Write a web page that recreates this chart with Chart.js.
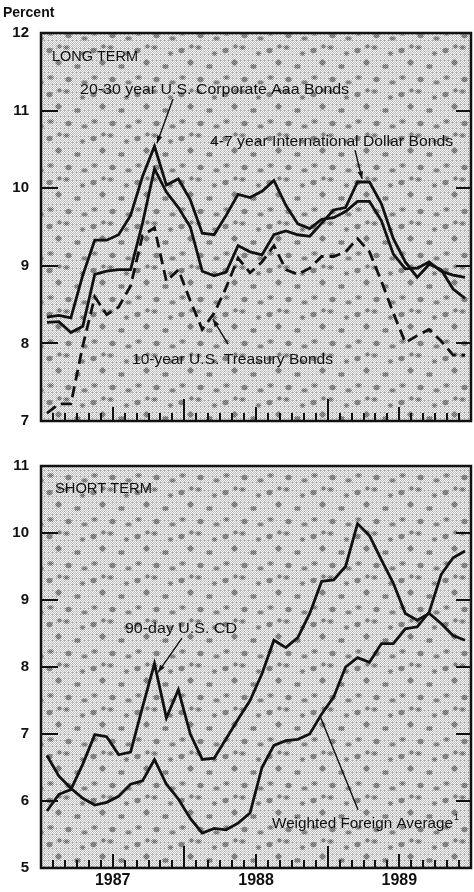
<!DOCTYPE html>
<html>
<head>
<meta charset="utf-8">
<script src="https://cdn.jsdelivr.net/npm/chart.js@4"></script>
<style>
  body { margin: 0; background: #fff; width: 474px; height: 892px; position: relative; overflow: hidden; }
  #percent { position: absolute; left: 3px; top: 4px; font: bold 14px "Liberation Sans", Arial, sans-serif; color: #111; }
  #bottomChart { position: absolute; left: 0; top: 442px; }
  #topChart { position: absolute; left: 0; top: 0; }
</style>
</head>
<body>
<canvas id="topChart" width="474" height="442"></canvas>
<canvas id="bottomChart" width="474" height="450"></canvas>
<div id="percent">Percent</div>
<script>
// months Jan 1987 .. Dec 1989
const months = [
  'Jan 1987','Feb 1987','Mar 1987','Apr 1987','May 1987','Jun 1987','Jul 1987','Aug 1987','Sep 1987','Oct 1987','Nov 1987','Dec 1987',
  'Jan 1988','Feb 1988','Mar 1988','Apr 1988','May 1988','Jun 1988','Jul 1988','Aug 1988','Sep 1988','Oct 1988','Nov 1988','Dec 1988',
  'Jan 1989','Feb 1989','Mar 1989','Apr 1989','May 1989','Jun 1989','Jul 1989','Aug 1989','Sep 1989','Oct 1989','Nov 1989','Dec 1989'
];
const yearLabels = ['1987', '1988', '1989'];
const longTermTicks = [7, 8, 9, 10, 11, 12];
const shortTermTicks = [5, 6, 7, 8, 9, 10, 11];

// long term, percent
const aaaBonds = [8.34, 8.36, 8.33, 8.88, 9.33, 9.33, 9.40, 9.65, 10.15, 10.54, 10.04, 10.12,
  9.85, 9.42, 9.40, 9.65, 9.92, 9.88, 9.96, 10.10, 9.78, 9.54, 9.48, 9.60,
  9.62, 9.70, 9.83, 9.83, 9.58, 9.15, 8.96, 8.97, 9.05, 8.93, 8.88, 8.85];
const intlDollarBonds = [8.27, 8.28, 8.14, 8.22, 8.89, 8.93, 8.95, 8.95, 9.55, 10.25, 9.95, 9.75,
  9.50, 8.93, 8.87, 8.92, 9.26, 9.18, 9.14, 9.40, 9.45, 9.40, 9.38, 9.55,
  9.72, 9.75, 10.08, 10.08, 9.80, 9.35, 9.05, 8.85, 9.02, 8.95, 8.70, 8.58];
const treasuryBonds = [7.10, 7.22, 7.22, 7.97, 8.60, 8.37, 8.47, 8.74, 9.39, 9.49, 8.80, 8.95,
  8.55, 8.18, 8.39, 8.72, 9.10, 8.91, 9.05, 9.26, 8.95, 8.89, 8.97, 9.12,
  9.12, 9.18, 9.35, 9.18, 8.80, 8.39, 8.01, 8.10, 8.18, 8.03, 7.85, 7.85];

// short term, percent
const cd90Day = [5.85, 6.10, 6.17, 6.55, 6.99, 6.96, 6.69, 6.73, 7.40, 8.05, 7.24, 7.66,
  7.00, 6.62, 6.64, 6.93, 7.22, 7.50, 7.90, 8.40, 8.29, 8.44, 8.80, 9.28,
  9.30, 9.50, 10.14, 9.96, 9.60, 9.25, 8.80, 8.70, 8.80, 8.65, 8.47, 8.40];
const foreignAverage = [6.68, 6.37, 6.19, 6.04, 5.94, 5.98, 6.07, 6.25, 6.30, 6.62, 6.25, 6.03,
  5.74, 5.52, 5.59, 5.57, 5.67, 5.82, 6.50, 6.83, 6.90, 6.92, 7.00, 7.30,
  7.55, 8.00, 8.14, 8.07, 8.35, 8.35, 8.57, 8.60, 8.82, 9.38, 9.63, 9.73];

const INK = '#111';
const labelFont = '"Liberation Sans Narrow", "Liberation Sans", Arial, sans-serif';

// stippled paper texture for the plot area
function makeTexture(ctx) {
  const size = 44;
  const c = document.createElement('canvas');
  c.width = size; c.height = size;
  const g = c.getContext('2d');
  const blobs = [[5, 6, 7], [22, 3, 5], [14, 18, 8], [33, 22, 6], [6, 33, 5], [24, 35, 7], [38, 9, 4], [40, 38, 5], [15, 2, 3]];
  for (let y = 0; y < size; y++) {
    for (let x = 0; x < size; x++) {
      let col = (x + y) % 2 === 0 ? '#f6f6f6' : '#bdbdbd';
      if (x % 4 === 0 && y % 3 === 1) col = '#a6a6a6';
      for (const [bx, by, r] of blobs) {
        const dx = Math.min(Math.abs(x - bx), size - Math.abs(x - bx));
        const dy = Math.min(Math.abs(y - by), size - Math.abs(y - by));
        const d = dx * dx + dy * dy * 1.4;
        if (d <= r) col = (x + y) % 2 === 0 ? '#9c9c9c' : '#666';
        else if (d <= r + 6) col = (x + y) % 2 === 0 ? '#d4d4d4' : '#888';
      }
      g.fillStyle = col;
      g.fillRect(x, y, 1, 1);
    }
  }
  return ctx.createPattern(c, 'repeat');
}

function arrow(ctx, x1, y1, x2, y2, head) {
  ctx.beginPath();
  ctx.moveTo(x1, y1);
  ctx.lineTo(x2, y2);
  ctx.stroke();
  if (!head) return;
  const a = Math.atan2(y2 - y1, x2 - x1);
  ctx.beginPath();
  ctx.moveTo(x2, y2);
  ctx.lineTo(x2 - head * Math.cos(a - 0.35), y2 - head * Math.sin(a - 0.35));
  ctx.lineTo(x2 - head * Math.cos(a + 0.35), y2 - head * Math.sin(a + 0.35));
  ctx.closePath();
  ctx.fill();
}

function fitText(ctx, text, x, y, width) {
  const w = ctx.measureText(text).width;
  ctx.save();
  ctx.translate(x, y);
  ctx.scale(width / w, 1);
  ctx.fillText(text, 0, 0);
  ctx.restore();
}

const panelPlugin = {
  id: 'panel',
  beforeDatasetsDraw(chart) {
    const { ctx, chartArea: a } = chart;
    if (!chart.$texture) chart.$texture = makeTexture(ctx);
    ctx.save();
    ctx.fillStyle = chart.$texture;
    ctx.fillRect(a.left, a.top, a.right - a.left, a.bottom - a.top);
    ctx.restore();
  },
  afterDatasetsDraw(chart, args, opts) {
    const { ctx, chartArea: a } = chart;
    const xs = chart.scales.x, ys = chart.scales.y;
    ctx.save();
    ctx.strokeStyle = INK;
    ctx.fillStyle = INK;
    // month ticks inside the bottom edge
    const n = months.length;
    ctx.lineWidth = 2;
    for (let k = 1; k < n; k++) {
      const x = Math.round(xs.getPixelForValue(k - 0.5));
      const len = k % 12 === 0 ? 22 : (k % 12 === 6 ? 14 : 8);
      ctx.beginPath();
      ctx.moveTo(x, a.bottom);
      ctx.lineTo(x, a.bottom - len);
      ctx.stroke();
    }
    // value ticks inside both sides
    for (const v of opts.ticks) {
      const y = Math.round(ys.getPixelForValue(v));
      ctx.beginPath();
      ctx.moveTo(a.left, y); ctx.lineTo(a.left + 17, y);
      ctx.moveTo(a.right - 15, y); ctx.lineTo(a.right, y);
      ctx.stroke();
    }
    // frame
    ctx.lineWidth = 2.5;
    ctx.strokeRect(a.left, a.top, a.right - a.left, a.bottom - a.top);
    // labels and arrows
    ctx.font = '15px ' + labelFont;
    ctx.textBaseline = 'alphabetic';
    for (const t of opts.texts) {
      fitText(ctx, t.text, xs.getPixelForValue(t.i), ys.getPixelForValue(t.v), t.w);
      if (t.sup) {
        ctx.font = '9px ' + labelFont;
        ctx.fillText(t.sup, xs.getPixelForValue(t.i) + t.w + 1, ys.getPixelForValue(t.v) - 8);
        ctx.font = '15px ' + labelFont;
      }
    }
    ctx.lineWidth = 1.4;
    for (const p of opts.arrows) {
      arrow(ctx, xs.getPixelForValue(p.from[0]), ys.getPixelForValue(p.from[1]),
        xs.getPixelForValue(p.to[0]), ys.getPixelForValue(p.to[1]), p.head);
    }
    ctx.restore();
  }
};

function lineSet(data, dash) {
  return {
    data: data,
    borderColor: INK,
    borderWidth: 2.8,
    borderDash: dash || [],
    pointRadius: 0,
    tension: 0,
    fill: false
  };
}

function yAxis(min, max, width) {
  return {
    min: min, max: max,
    grid: { display: false, drawTicks: false },
    border: { display: false },
    ticks: { stepSize: 1, padding: 12, color: INK, font: { family: '"Liberation Sans", Arial, sans-serif', size: 15, weight: 'bold' } },
    afterFit(scale) { scale.width = width; }
  };
}

new Chart(document.getElementById('topChart'), {
  type: 'line',
  data: {
    labels: months,
    datasets: [lineSet(aaaBonds), lineSet(intlDollarBonds), lineSet(treasuryBonds, [11, 6])]
  },
  options: {
    responsive: false,
    animation: false,
    layout: { padding: { top: 33, bottom: 11, right: 3, left: 0 } },
    plugins: {
      legend: { display: false },
      tooltip: { enabled: false },
      panel: {
        ticks: longTermTicks,
        texts: [
          { text: 'LONG TERM', i: 0.42, v: 11.64, w: 86 },
          { text: '20-30 year U.S. Corporate Aaa Bonds', i: 2.77, v: 11.21, w: 269 },
          { text: '4-7 year International Dollar Bonds', i: 13.65, v: 10.54, w: 243 },
          { text: '10-year U.S. Treasury Bonds', i: 7.12, v: 7.74, w: 201 }
        ],
        arrows: [
          { from: [10.55, 11.15], to: [9.21, 10.58], head: 8 },
          { from: [25.79, 10.49], to: [26.38, 10.12], head: 8 },
          { from: [15.16, 7.99], to: [13.9, 8.31], head: 8 }
        ]
      }
    },
    scales: {
      x: { display: false, offset: true },
      y: yAxis(7, 12, 41)
    }
  },
  plugins: [panelPlugin]
});

new Chart(document.getElementById('bottomChart'), {
  type: 'line',
  data: {
    labels: months,
    datasets: [lineSet(cd90Day), lineSet(foreignAverage)]
  },
  options: {
    responsive: false,
    animation: false,
    layout: { padding: { top: 24, bottom: 0, right: 3, left: 0 } },
    plugins: {
      legend: { display: false },
      tooltip: { enabled: false },
      panel: {
        ticks: shortTermTicks,
        texts: [
          { text: 'SHORT TERM', i: 0.67, v: 10.60, w: 97 },
          { text: '90-day U.S. CD', i: 6.53, v: 8.51, w: 112 },
          { text: 'Weighted Foreign Average', i: 18.84, v: 5.60, w: 181, sup: '1' }
        ],
        arrows: [
          { from: [11.3, 8.43], to: [9.3, 7.92], head: 8 },
          { from: [26.04, 5.87], to: [22.86, 7.27], head: 0 }
        ]
      }
    },
    scales: {
      x: {
        offset: true,
        grid: { display: false, drawTicks: false, offset: true },
        border: { display: false },
        ticks: {
          autoSkip: false,
          maxRotation: 0,
          padding: 3,
          labelOffset: 6,
          color: INK,
          font: { family: '"Liberation Sans", Arial, sans-serif', size: 16, weight: 'bold' },
          callback: (val, idx) => idx % 12 === 5 ? yearLabels[Math.floor(idx / 12)] : ''
        },
        afterFit(scale) { scale.height = 24; }
      },
      y: yAxis(5, 11, 41)
    }
  },
  plugins: [panelPlugin]
});
</script>
</body>
</html>
